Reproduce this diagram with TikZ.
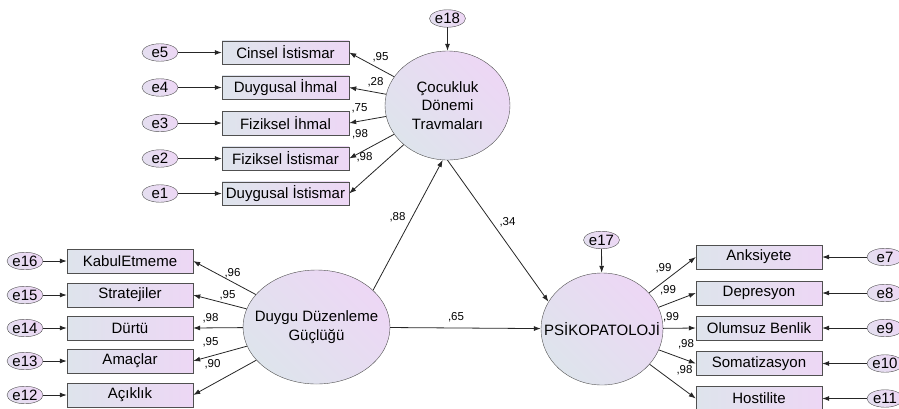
\documentclass[tikz,border=0pt]{standalone}
\usepackage{fontspec}
\setmainfont{Liberation Sans}
\usetikzlibrary{arrows.meta,shapes.geometric}
\definecolor{fillblue}{RGB}{222,228,236}
\definecolor{fillpink}{RGB}{237,215,245}
\definecolor{edgegray}{RGB}{80,80,80}

\begin{document}
\begin{tikzpicture}[x=1pt, y=-1pt, >={Latex[length=7pt,width=5pt]},
  obs/.style={rectangle, draw=edgegray, left color=fillblue, right color=fillpink,
    minimum width=127pt, minimum height=23.5pt, inner sep=0pt,
    font=\fontsize{15}{18}\selectfont},
  err/.style={ellipse, draw=edgegray, top color=fillpink, bottom color=fillblue!60!fillpink,
    shading angle=-45, minimum width=36pt, minimum height=17.5pt, inner sep=0pt,
    label={[font=\fontsize{15}{18}\selectfont]center:#1}},
  lat/.style={ellipse, draw=edgegray, top color=fillpink, bottom color=fillblue,
    shading angle=-45, inner sep=0pt},
  ltext/.style={font=\fontsize{15}{18.5}\selectfont, align=center},
  lbl/.style={font=\fontsize{11.5}{13}\selectfont, inner sep=0pt},
  path/.style={->, draw=black!85, line width=0.8pt}]
  \useasboundingbox (0,0) rectangle (899,408);
  \clip (0,0) rectangle (899,408);

  % latent variables
  \node[lat, minimum width=125pt, minimum height=109pt,
    label={[ltext]center:Çocukluk\\Dönemi\\Travmaları}] (cdt) at (447.5,105.5) {};
  \node[lat, minimum width=147pt, minimum height=114pt,
    label={[ltext]center:Duygu Düzenleme\\Güçlüğü}] (ddg) at (316.5,327) {};
  \node[lat, minimum width=122pt, minimum height=112pt,
    label={[ltext]center:PSİKOPATOLOJİ}] (psk) at (602,329) {};
  \node[err=e18] (e18) at (447.5,18.5) {};
  \node[err=e17] (e17) at (601.5,240) {};

  % indicators of Çocukluk Dönemi Travmaları
  \foreach \i/\txt/\y/\w/\lx/\ly in {
      5/Cinsel İstismar/52.5/{,95}/380.5/57,
      4/Duygusal İhmal/87.5/{,28}/375.5/82,
      3/Fiziksel İhmal/123/{,75}/359.5/108,
      2/Fiziksel İstismar/158.5/{,98}/360/134,
      1/Duygusal İstismar/193.5/{,98}/364.5/157} {
    \node[obs] (o\i) at (285.5,\y) {\txt};
    \node[err=e\i] (e\i) at (160,\y) {};
    \node[lbl] (l\i) at (\lx,\ly) {\w};
    \draw[path] (e\i) -- (o\i);
    \draw[path] (cdt) -- (o\i.east);
  }

  % indicators of Duygu Düzenleme Güçlüğü
  \foreach \i/\txt/\y/\w/\lx/\ly in {
      16/KabulEtmeme/261/{,96}/232.5/273,
      15/Stratejiler/295/{,95}/227.5/295,
      14/Dürtü/328/{,98}/210.5/318,
      13/Amaçlar/361/{,95}/210.5/342,
      12/Açıklık/395/{,90}/212.5/364} {
    \node[obs, minimum width=126pt, minimum height=24pt] (o\i) at (130,\y) {\txt};
    \node[err=e\i] (e\i) at (25,\y) {};
    \node[lbl] (l\i) at (\lx,\ly) {\w};
    \draw[path] (e\i) -- (o\i);
    \draw[path] (ddg) -- (o\i.east);
  }

  % indicators of PSİKOPATOLOJİ
  \foreach \i/\txt/\y/\w/\lx/\ly in {
      7/Anksiyete/257/{,99}/663.5/268,
      8/Depresyon/293/{,99}/668/290,
      9/Olumsuz Benlik/328/{,99}/671/317,
      10/Somatizasyon/363.5/{,98}/686/344,
      11/Hostilite/398.5/{,98}/684.5/370} {
    \node[obs, minimum width=126pt, minimum height=24pt] (o\i) at (759,\y) {\txt};
    \node[err=e\i] (e\i) at (885,\y) {};
    \node[lbl] (l\i) at (\lx,\ly) {\w};
    \draw[path] (e\i) -- (o\i);
    \draw[path] (psk) -- (o\i.west);
  }

  % structural paths
  \draw[path] (e18) -- (cdt);
  \draw[path] (e17) -- (psk);
  \draw[path] (ddg.33) -- (cdt.-95);
  \draw[path] (cdt.-90) -- (psk.153);
  \draw[path] (ddg) -- (psk);
  \node[lbl] (l88) at (397.5,217) {,88};
  \node[lbl] (l34) at (507.5,222) {,34};
  \node[lbl] (l65) at (456,317) {,65};
\end{tikzpicture}
\end{document}
